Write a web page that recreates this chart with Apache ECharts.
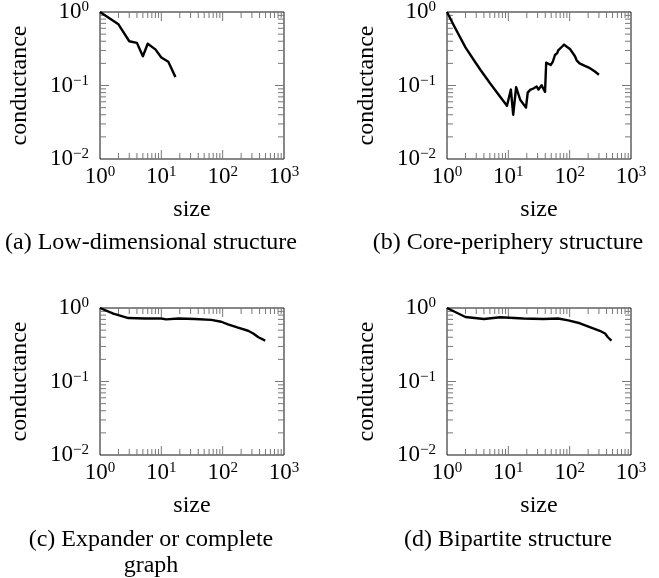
<!DOCTYPE html>
<html><head><meta charset="utf-8">
<script src="https://cdn.jsdelivr.net/npm/echarts@6/dist/echarts.min.js"></script>
<style>html,body{margin:0;padding:0;background:#fff}#c{width:659px;height:578px}</style>
</head><body><div id="c"></div>
<script>
// ---- data ----
const sizeA = [1, 2, 3, 4, 5, 6, 8, 10, 13, 17];
const condA = [1.0, 0.68, 0.40, 0.38, 0.25, 0.37, 0.31, 0.24, 0.21, 0.13];

const sizeB = [1, 1.3, 2, 2.7, 3.5, 5, 7.3, 9.5, 11, 12, 13.4, 15.6, 19.4, 20.7, 22.6, 25.6, 29, 31, 35, 37, 39.7, 41.4, 49, 53, 57.6, 62.7, 65, 74, 81, 91, 101, 108, 122, 130, 145, 177, 214, 258, 300];
const condB = [1.0, 0.65, 0.33, 0.226, 0.164, 0.108, 0.071, 0.053, 0.088, 0.040, 0.095, 0.064, 0.050, 0.080, 0.087, 0.091, 0.097, 0.088, 0.101, 0.091, 0.082, 0.205, 0.19, 0.21, 0.26, 0.276, 0.30, 0.334, 0.36, 0.334, 0.314, 0.29, 0.25, 0.22, 0.20, 0.185, 0.172, 0.155, 0.14];

const sizeC = [1, 1.65, 2.9, 5.4, 10, 12, 19, 35, 65, 95, 122, 178, 260, 315, 383, 494];
const condC = [1.0, 0.84, 0.73, 0.72, 0.72, 0.70, 0.72, 0.71, 0.69, 0.65, 0.60, 0.54, 0.49, 0.45, 0.40, 0.36];

const sizeD = [1, 2, 4, 7.4, 17.6, 37, 65, 95, 147, 213, 310, 378, 420, 480];
const condD = [1.0, 0.755, 0.71, 0.75, 0.72, 0.71, 0.72, 0.68, 0.62, 0.55, 0.49, 0.45, 0.40, 0.36];

const xMajor = [10, 100];
const yMajor = [0.1];
const xMinor = [2,3,4,5,6,7,8,9,20,30,40,50,60,70,80,90,200,300,400,500,600,700,800,900];
const yMinor = [0.02,0.03,0.04,0.05,0.06,0.07,0.08,0.09,0.2,0.3,0.4,0.5,0.6,0.7,0.8,0.9];

const captions = ['(a) Low-dimensional structure', '(b) Core-periphery structure', '(c) Expander or complete\ngraph', '(d) Bipartite structure'];
const xName = 'size';
const yName = 'conductance';

// ---- layout ----
const FONT = 'Liberation Serif';
const grids = [
  {left: 100, top: 12, width: 184, height: 147},
  {left: 447, top: 12, width: 184, height: 147},
  {left: 100, top: 308, width: 184, height: 147},
  {left: 447, top: 308, width: 184, height: 147}
];
const capPos = [[151, 243], [508, 243], [151, 553], [508, 540]];
const series = [[sizeA, condA], [sizeB, condB], [sizeC, condC], [sizeD, condD]];

function expLabel(v) {
  const e = Math.round(Math.log10(v));
  return '{b|10}{s|' + (e < 0 ? '\u2212' + (-e) : e) + '}';
}
const rich = {
  b: {fontFamily: FONT, fontSize: 23, color: '#000', lineHeight: 24},
  s: {fontFamily: FONT, fontSize: 15, color: '#000', lineHeight: 17, verticalAlign: 'top'}
};

const option = {animation: false, grid: [], xAxis: [], yAxis: [], series: [], graphic: []};

grids.forEach((g, i) => {
  option.grid.push(Object.assign({show: true, borderColor: '#111', borderWidth: 1, backgroundColor: 'transparent'}, g));
  option.xAxis.push({
    type: 'log', logBase: 10, min: 1, max: 1000, gridIndex: i,
    axisLine: {show: false}, axisTick: {show: false}, splitLine: {show: false},
    axisLabel: {formatter: expLabel, rich: rich, margin: 6},
    name: xName, nameLocation: 'middle', nameGap: 39,
    nameTextStyle: {fontFamily: FONT, fontSize: 24, color: '#000'}
  });
  option.yAxis.push({
    type: 'log', logBase: 10, min: 0.01, max: 1, gridIndex: i,
    axisLine: {show: false}, axisTick: {show: false}, splitLine: {show: false},
    axisLabel: {formatter: expLabel, rich: rich, margin: 11},
    name: yName, nameLocation: 'middle', nameGap: 68,
    nameTextStyle: {fontFamily: FONT, fontSize: 24, color: '#000'}
  });
  const tdata = [];
  xMinor.forEach(v => tdata.push([v, 1, 0]));
  xMajor.forEach(v => tdata.push([v, 1, 2]));
  yMinor.forEach(v => tdata.push([1, v, 1]));
  yMajor.forEach(v => tdata.push([1, v, 3]));
  option.series.push({
    type: 'custom', xAxisIndex: i, yAxisIndex: i, data: tdata, silent: true, z: 1,
    renderItem: function (params, api) {
      const kind = api.value(2);
      const len = kind >= 2 ? 9 : 6;
      const st = {stroke: '#777', lineWidth: 1};
      let a, b;
      if (kind % 2 === 0) {
        const x = api.value(0);
        const p = api.coord([x, 0.01]);
        const q = api.coord([x, 1]);
        a = [p[0], p[1], p[0], p[1] - len];
        b = [q[0], q[1], q[0], q[1] + len];
      } else {
        const y = api.value(1);
        const p = api.coord([1, y]);
        const q = api.coord([1000, y]);
        a = [p[0], p[1], p[0] + len, p[1]];
        b = [q[0], q[1], q[0] - len, q[1]];
      }
      return {type: 'group', children: [
        {type: 'line', shape: {x1: a[0], y1: a[1], x2: a[2], y2: a[3]}, style: st},
        {type: 'line', shape: {x1: b[0], y1: b[1], x2: b[2], y2: b[3]}, style: st}
      ]};
    }
  });
  const [sx, sy] = series[i];
  option.series.push({
    type: 'line', xAxisIndex: i, yAxisIndex: i, z: 3,
    data: sx.map((v, k) => [v, sy[k]]),
    showSymbol: false, symbol: 'none',
    lineStyle: {color: '#000', width: 2.4, join: 'round'}
  });
  option.graphic.push({
    type: 'text', x: capPos[i][0], y: capPos[i][1],
    style: {text: captions[i], fill: '#000', font: '24px "' + FONT + '"', textAlign: 'center', textVerticalAlign: 'middle', lineHeight: 26}
  });
});

const chart = echarts.init(document.getElementById('c'), null, {renderer: 'canvas'});
chart.setOption(option);
</script>
</body></html>
